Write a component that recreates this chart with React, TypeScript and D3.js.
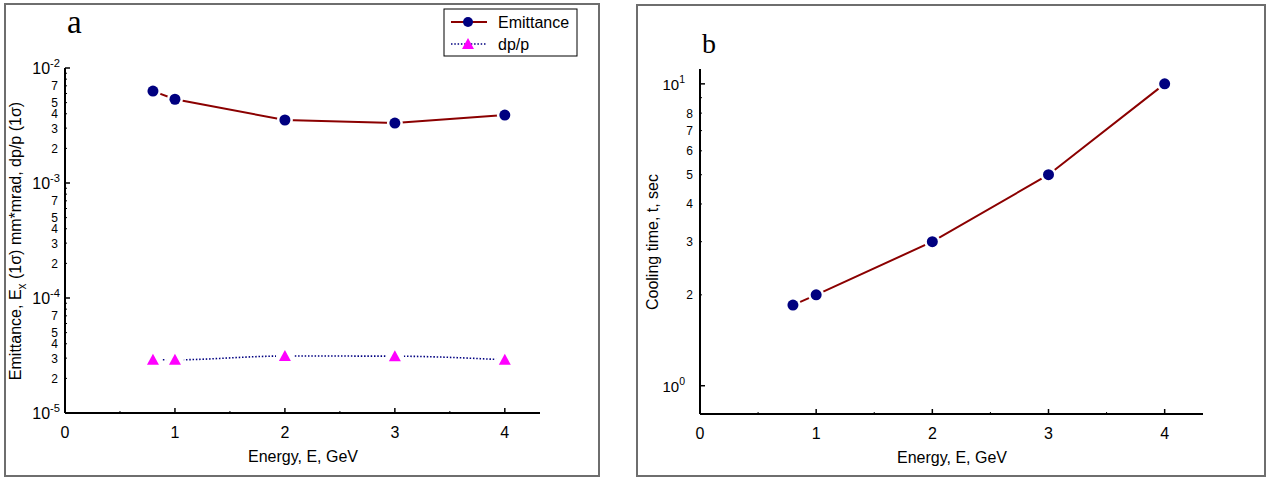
import React, { useEffect } from "react";
import * as d3 from "d3";

// energies in GeV
const energies = [0.8, 1, 2, 3, 4];
const emittance = [6.3e-3, 5.35e-3, 3.53e-3, 3.32e-3, 3.9e-3];
const dpp = [2.9e-5, 2.9e-5, 3.13e-5, 3.12e-5, 2.9e-5];
const coolingTime = [1.85, 2.0, 3.0, 5.0, 10.0];

const xMajor = [0, 1, 2, 3, 4];
const xMinor = [0.5, 1.5, 2.5, 3.5];
const aDecades = [-2, -3, -4, -5];
const aMinorLabels = [2, 3, 4, 5, 7];
const bDecades = [0, 1];
const bMinorLabels = [2, 3, 4, 5, 6, 7, 8];
const mantissas = [2, 3, 4, 5, 6, 7, 8, 9];

const FONT = "'Liberation Sans', Arial, sans-serif";
const SERIF = "'Liberation Serif', 'Times New Roman', serif";
const RED = "#8b0000";
const NAVY = "#000080";
const MAGENTA = "#ff00ff";

type Scale = d3.ScaleLinear<number, number>;
type LogScale = d3.ScaleLogarithmic<number, number>;

function XAxis({ x, y0 }: { x: Scale; y0: number }) {
  const [r0, r1] = x.range();
  return (
    <g>
      <line x1={r0} x2={r1} y1={y0} y2={y0} stroke="#000" strokeWidth={2} />
      {xMajor.map((t) => (
        <g key={t}>
          {t > 0 && <line x1={x(t)} x2={x(t)} y1={y0} y2={y0 - 5} stroke="#000" strokeWidth={1.5} />}
          <text x={x(t)} y={y0 + 25} textAnchor="middle" fontSize={16} fontFamily={FONT}>{t}</text>
        </g>
      ))}
      {xMinor.map((t) => (
        <line key={t} x1={x(t)} x2={x(t)} y1={y0} y2={y0 - 2} stroke="#000" strokeWidth={1} />
      ))}
    </g>
  );
}

function LogYAxis({ y, x0, decades, minorLabels, majorEnd, minorEnd, majorSize, minorSize }:
  { y: LogScale; x0: number; decades: number[]; minorLabels: number[]; majorEnd: number; minorEnd: number; majorSize: number; minorSize: number }) {
  const [d0, d1] = y.domain();
  const [r0, r1] = y.range();
  const minors: number[] = [];
  decades.forEach((e) => mantissas.forEach((m) => {
    const v = m * Math.pow(10, e);
    if (v >= d0 && v <= d1) minors.push(v);
  }));
  return (
    <g>
      <line x1={x0} x2={x0} y1={r0} y2={r1} stroke="#000" strokeWidth={2} />
      {decades.map((e) => {
        const v = Math.pow(10, e);
        return (
          <g key={e}>
            <line x1={x0} x2={x0 + 5} y1={y(v)} y2={y(v)} stroke="#000" strokeWidth={1.5} />
            <text x={majorEnd} y={y(v) + 6} textAnchor="end" fontSize={majorSize} fontFamily={FONT}>
              10<tspan dy={-7} fontSize={majorSize * 0.7}>{e}</tspan>
            </text>
          </g>
        );
      })}
      {minors.map((v, i) => {
        const m = Math.round(v / Math.pow(10, Math.floor(Math.log10(v) + 1e-9)));
        return (
          <g key={i}>
            <line x1={x0} x2={x0 + 2} y1={y(v)} y2={y(v)} stroke="#000" strokeWidth={1} />
            {minorLabels.includes(m) && (
              <text x={minorEnd} y={y(v) + 4.5} textAnchor="end" fontSize={minorSize} fontFamily={FONT}>{m}</text>
            )}
          </g>
        );
      })}
    </g>
  );
}

function Circles({ xs, ys }: { xs: number[]; ys: number[] }) {
  return (
    <g>
      {xs.map((px, i) => (
        <g key={i}>
          <circle cx={px} cy={ys[i]} r={8} fill="#fff" />
          <circle cx={px} cy={ys[i]} r={5.5} fill={NAVY} />
        </g>
      ))}
    </g>
  );
}

function triPath(cx: number, cy: number) {
  return `M${cx - 6},${cy + 5}L${cx + 6},${cy + 5}L${cx},${cy - 6}Z`;
}

function Triangles({ xs, ys }: { xs: number[]; ys: number[] }) {
  return (
    <g>
      {xs.map((px, i) => (
        <g key={i}>
          <circle cx={px} cy={ys[i]} r={9} fill="#fff" />
          <path d={triPath(px, ys[i])} fill={MAGENTA} />
        </g>
      ))}
    </g>
  );
}

function PanelA() {
  const x = d3.scaleLinear().domain([0, 4.32]).range([65, 540]);
  const y = d3.scaleLog().domain([1e-5, 1e-2]).range([413, 68]);
  const emPath = d3.line<number>().x((_, i) => x(energies[i])).y((d) => y(d))(emittance) || "";
  const dpPath = d3.line<number>().x((_, i) => x(energies[i])).y((d) => y(d)).curve(d3.curveMonotoneX)(dpp) || "";
  const xs = energies.map((e) => x(e));
  return (
    <g>
      <rect x={5} y={4} width={594} height={472} fill="#fff" stroke="#6e6e6e" strokeWidth={2} />
      <text x={67} y={33} fontFamily={SERIF} fontSize={33}>a</text>
      <path d={emPath} fill="none" stroke={RED} strokeWidth={2} />
      <path d={dpPath} fill="none" stroke={NAVY} strokeWidth={1.6} strokeDasharray="1.5,1.8" />
      <Circles xs={xs} ys={emittance.map((v) => y(v))} />
      <Triangles xs={xs} ys={dpp.map((v) => y(v))} />
      <XAxis x={x} y0={413} />
      <LogYAxis y={y} x0={65} decades={aDecades} minorLabels={aMinorLabels}
        majorEnd={60} minorEnd={58} majorSize={16} minorSize={12} />
      <text x={303} y={462} textAnchor="middle" fontSize={16} fontFamily={FONT}>Energy, E, GeV</text>
      <text transform="translate(21,241) rotate(-90)" textAnchor="middle" fontSize={16} fontFamily={FONT}>
        Emittance, E<tspan dy={5} fontSize={12}>x</tspan><tspan dy={-5}> (1σ) mm*mrad, dp/p (1σ)</tspan>
      </text>
      {/* legend */}
      <rect x={444} y={9} width={133} height={47} fill="#fff" stroke="#000" strokeWidth={1} />
      <line x1={451} x2={487} y1={22} y2={22} stroke={RED} strokeWidth={2} />
      <circle cx={468} cy={22} r={5} fill={NAVY} />
      <text x={498} y={28} fontSize={16} fontFamily={FONT}>Emittance</text>
      <line x1={451} x2={487} y1={44} y2={44} stroke={NAVY} strokeWidth={1.5} strokeDasharray="1.5,1.8" />
      <path d={triPath(468, 44)} fill={MAGENTA} />
      <text x={498} y={50} fontSize={16} fontFamily={FONT}>dp/p</text>
    </g>
  );
}

function PanelB() {
  const x = d3.scaleLinear().domain([0, 4.33]).range([700, 1203]);
  const y = d3.scaleLog().domain([0.806, 11.2]).range([414, 69]);
  const path = d3.line<number>().x((_, i) => x(energies[i])).y((d) => y(d))(coolingTime) || "";
  const xs = energies.map((e) => x(e));
  return (
    <g>
      <rect x={637} y={5} width={628} height={471} fill="#fff" stroke="#6e6e6e" strokeWidth={2} />
      <text x={702} y={53} fontFamily={SERIF} fontSize={28}>b</text>
      <path d={path} fill="none" stroke={RED} strokeWidth={2} />
      <Circles xs={xs} ys={coolingTime.map((v) => y(v))} />
      <XAxis x={x} y0={414} />
      <LogYAxis y={y} x0={700} decades={bDecades} minorLabels={bMinorLabels}
        majorEnd={685} minorEnd={693} majorSize={15} minorSize={12} />
      <text x={952} y={463} textAnchor="middle" fontSize={16} fontFamily={FONT}>Energy, E, GeV</text>
      <text transform="translate(658,242) rotate(-90)" textAnchor="middle" fontSize={16} fontFamily={FONT}>
        Cooling time, t, sec
      </text>
    </g>
  );
}

export default function App() {
  useEffect(() => {
    document.body.style.margin = "0";
  }, []);
  return (
    <svg width={1268} height={478} style={{ display: "block", background: "#fff" }}>
      <PanelA />
      <PanelB />
    </svg>
  );
}
